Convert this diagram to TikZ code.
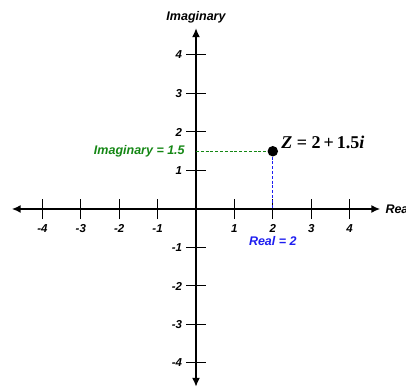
\documentclass[tikz,border=0pt]{standalone}
\usepackage{fontspec}
\setmainfont{Liberation Sans}
\newfontfamily\serifbf{Liberation Serif}
\usetikzlibrary{arrows.meta}
\definecolor{lblgreen}{RGB}{20,135,20}
\definecolor{lblblue}{RGB}{30,30,240}
\begin{document}
\begin{tikzpicture}[
  axis/.style={line width=1.8pt,-{Latex[length=9pt,width=8pt]}},
  tickmark/.style={line width=1pt},
  ticklbl/.style={font=\fontsize{11.5}{13}\selectfont\bfseries\itshape,inner sep=0pt},
  axlbl/.style={font=\fontsize{12.5}{14}\selectfont\bfseries\itshape,inner sep=0pt},
  guide/.style={line width=0.9pt,dash pattern=on 3pt off 1.8pt}
]
\useasboundingbox (0,0) rectangle (406pt,387pt);
\begin{scope}[shift={(196pt,178pt)},x=38.4pt,y=38.5pt]
  \coordinate (O) at (0,0);
  \coordinate (xl) at (-4.8,0);
  \coordinate (xr) at (4.8,0);
  \coordinate (yt) at (0,4.7);
  \coordinate (yb) at (0,-4.62);
  \draw[axis] (O) -- (xr);
  \draw[axis] (O) -- (xl);
  \draw[axis] (O) -- (yt);
  \draw[axis] (O) -- (yb);
  \foreach \i in {-4,-3,-2,-1,1,2,3,4} {
    \draw[tickmark] (\i,-0.26) -- (\i,0.26);
    \node[ticklbl] (xt\i) at (\i,-0.5) {\i};
    \draw[tickmark] (-0.26,\i) -- (0.26,\i);
    \node[ticklbl,anchor=east] (yt\i) at (-0.36,\i) {\i};
  }
  \node[axlbl,anchor=west] (reallbl) at (4.93,0) {Real};
  \node[axlbl] (imaglbl) at (0,4.99) {Imaginary};
  \node[circle,fill=black,inner sep=0pt,minimum size=10.5pt] (Z) at (2,1.5) {};
  \coordinate (Zx) at (2,0);
  \coordinate (Zy) at (0,1.5);
  \draw[guide,lblgreen] (Zy) -- (Z);
  \draw[guide,lblblue] (Z) -- (Zx);
  \node[axlbl,text=lblgreen,anchor=east] (imval) at (-0.29,1.5) {Imaginary = 1.5};
  \node[axlbl,text=lblblue] (reval) at (2,-0.84) {Real = 2};
  \node[anchor=west,inner sep=0pt,font=\fontsize{18}{20}\selectfont\serifbf\bfseries] (zlbl) at (2.22,1.74) {\itshape Z\upshape\ = 2\,+\,1.5\itshape i};
\end{scope}
\end{tikzpicture}
\end{document}
